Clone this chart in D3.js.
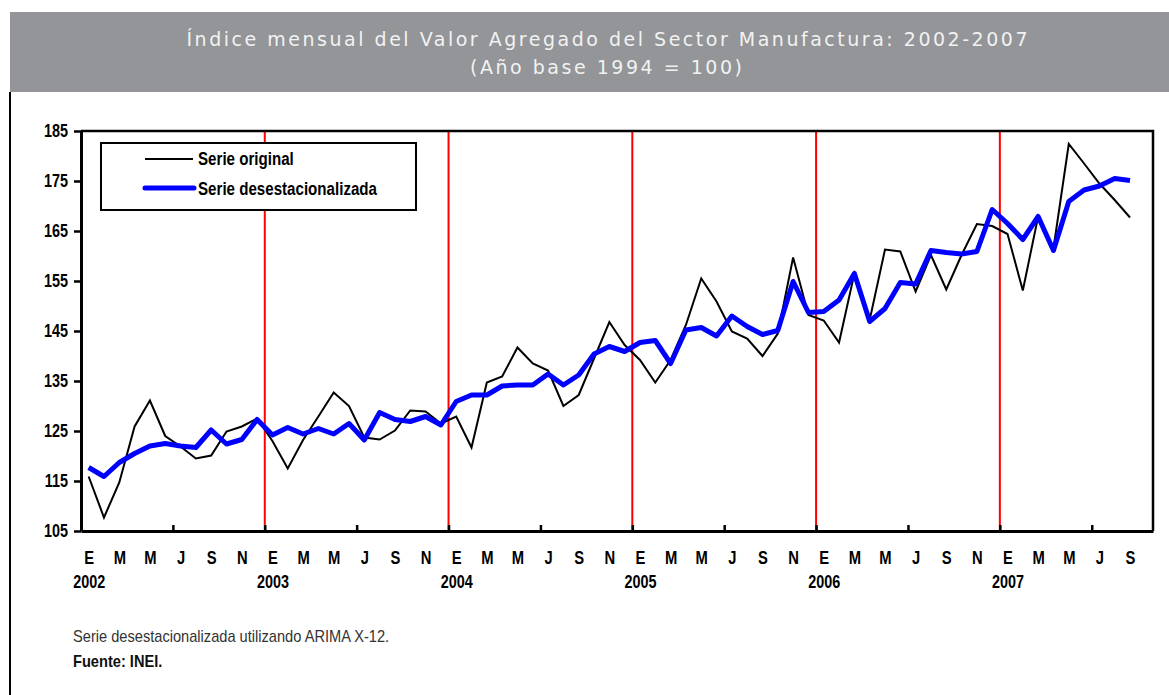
<!DOCTYPE html>
<html><head><meta charset="utf-8">
<script src="https://cdn.jsdelivr.net/npm/d3@7"></script>
<style>
body{margin:0;background:#fff;}
svg{display:block;}
</style></head>
<body><svg id="c" width="1169" height="695"></svg>
<script>
const monthLetters = ["E","F","M","A","M","J","J","A","S","O","N","D"];
const years = ["2002","2003","2004","2005","2006","2007"];
const yTicks = [105,115,125,135,145,155,165,175,185];
const serieOriginal = [
 115.9,107.7,114.7,125.9,131.1,124.0,121.9,119.5,120.1,124.9,125.9,127.5,
 123.0,117.5,123.2,127.9,132.7,130.0,123.7,123.3,125.1,129.1,128.9,126.5,
 127.9,121.7,134.7,135.9,141.7,138.5,137.1,130.0,132.2,139.5,146.8,142.2,
 139.2,134.7,139.2,146.2,155.5,150.9,144.9,143.5,140.0,144.5,159.7,148.2,
 147.1,142.7,156.5,147.2,161.3,160.9,152.9,160.2,153.3,160.2,166.4,166.0,
 164.4,153.1,167.9,161.5,182.4,178.5,174.5,171.2,167.7];
const serieDesest = [
 117.7,115.9,118.7,120.5,122.0,122.5,122.0,121.7,125.2,122.4,123.3,127.3,
 124.2,125.7,124.4,125.5,124.4,126.5,123.2,128.7,127.3,126.9,127.9,126.2,
 130.9,132.2,132.2,134.0,134.2,134.2,136.4,134.2,136.2,140.4,141.9,140.9,
 142.7,143.1,138.5,145.2,145.7,144.0,148.0,145.9,144.3,145.1,154.9,148.7,
 148.9,151.2,156.5,146.9,149.5,154.7,154.4,161.1,160.7,160.4,160.9,169.3,
 166.5,163.3,167.9,161.1,170.9,173.2,174.0,175.5,175.1];
const nSlots = 70; // Jan 2002 .. Oct 2007 category slots
const title1 = "Índice mensual del Valor Agregado del Sector Manufactura: 2002-2007";
const title2 = "(Año base 1994 = 100)";
const legendLabels = ["Serie original","Serie desestacionalizada"];
const note1 = "Serie desestacionalizada utilizando ARIMA X-12.";
const note2 = "Fuente: INEI.";

const svg = d3.select("#c");
const L=81, R=1153, T=131, B=531;
const FONT = "Liberation Sans, Arial, sans-serif";

// compress text horizontally to mimic a narrow typeface
function narrow(sel, k){
  sel.attr("font-family",FONT).each(function(){
    const w = this.getComputedTextLength();
    d3.select(this).attr("textLength", w*k).attr("lengthAdjust","spacingAndGlyphs");
  });
}

// banner
svg.append("rect").attr("x",10).attr("y",12).attr("width",1159).attr("height",80).attr("fill","#939598");
svg.append("text").attr("x",607).attr("y",46).attr("text-anchor","middle")
  .attr("font-family","DejaVu Sans, Verdana, sans-serif").attr("font-size",19).attr("fill","#f2f2f2")
  .attr("textLength",841).attr("lengthAdjust","spacing").text(title1);
svg.append("text").attr("x",606).attr("y",74).attr("text-anchor","middle")
  .attr("font-family","DejaVu Sans, Verdana, sans-serif").attr("font-size",19).attr("fill","#f2f2f2")
  .attr("textLength",272).attr("lengthAdjust","spacing").text(title2);
// left frame line
svg.append("line").attr("x1",10).attr("x2",10).attr("y1",92).attr("y2",695).attr("stroke","#000").attr("stroke-width",2);

const x = d3.scaleLinear().domain([0,nSlots]).range([L,R]);
const y = d3.scaleLinear().domain([105,185]).range([B,T]);

// red year separators
const g = svg.append("g");
g.selectAll("line.red").data(d3.range(12,nSlots,12)).join("line")
  .attr("x1",d=>x(d)).attr("x2",d=>x(d)).attr("y1",T).attr("y2",B)
  .attr("stroke","#ff0000").attr("stroke-width",2);

// lines
const lineGen = d3.line().x((d,i)=>x(i+0.5)).y(d=>y(d));
g.append("path").datum(serieOriginal).attr("d",lineGen).attr("fill","none").attr("stroke","#000").attr("stroke-width",2).attr("stroke-linejoin","miter");
g.append("path").datum(serieDesest).attr("d",lineGen).attr("fill","none").attr("stroke","#0000ff").attr("stroke-width",5).attr("stroke-linejoin","round");

// frame top/right
svg.append("path").attr("d",`M${L},${T}H${R}V${B}`).attr("fill","none").attr("stroke","#000").attr("stroke-width",2.5);

// y axis
const ya = svg.append("g").attr("transform",`translate(${L},0)`)
  .call(d3.axisLeft(y).tickValues(yTicks).tickSize(7).tickSizeOuter(0).tickPadding(6));
ya.select(".domain").attr("stroke-width",3);
ya.selectAll(".tick line").attr("stroke-width",2.5);
ya.selectAll("text").attr("font-size",18).attr("font-weight","bold").attr("fill","#000").call(narrow,0.8);

// x axis ticks (inside, every 6 months)
const xa = svg.append("g").attr("transform",`translate(0,${B})`)
  .call(d3.axisBottom(x).tickValues(d3.range(6,nSlots,6)).tickSize(-6).tickSizeOuter(0).tickFormat(""));
xa.select(".domain").attr("stroke-width",3);
xa.selectAll(".tick line").attr("stroke-width",2.5);

// month labels
const labIdx = d3.range(0,serieOriginal.length,2);
const xm = svg.append("g").attr("transform",`translate(0,${B})`)
  .call(d3.axisBottom(x).tickValues(labIdx.map(i=>i+0.5)).tickSize(0).tickPadding(20)
    .tickFormat(d=>monthLetters[Math.floor(d)%12]));
xm.select(".domain").remove();
xm.selectAll("text").attr("font-size",18).attr("font-weight","bold").attr("fill","#000").call(narrow,0.82);

// year labels
const xy = svg.append("g").attr("transform",`translate(0,${B})`)
  .call(d3.axisBottom(x).tickValues(years.map((d,k)=>k*12+0.5)).tickSize(0).tickPadding(44)
    .tickFormat((d,k)=>years[k]));
xy.select(".domain").remove();
xy.selectAll("text").attr("font-size",18).attr("font-weight","bold").attr("fill","#000").call(narrow,0.8);

// legend
const lg = svg.append("g");
lg.append("rect").attr("x",101).attr("y",143).attr("width",315).attr("height",67).attr("fill","#fff").attr("stroke","#000").attr("stroke-width",2);
lg.append("line").attr("x1",145).attr("x2",193).attr("y1",159).attr("y2",159).attr("stroke","#000").attr("stroke-width",2);
lg.append("line").attr("x1",145).attr("x2",194).attr("y1",188).attr("y2",188).attr("stroke","#0000ff").attr("stroke-width",5).attr("stroke-linecap","round");
lg.selectAll("text").data(legendLabels).join("text")
  .attr("x",198).attr("y",(d,i)=>165+i*30).attr("font-size",18).attr("font-weight","bold").text(d=>d).call(narrow,0.84);

// notes
svg.append("text").attr("x",73).attr("y",642).attr("font-size",17).attr("fill","#333").text(note1).call(narrow,0.86);
svg.append("text").attr("x",73).attr("y",667).attr("font-size",17).attr("font-weight","bold").attr("fill","#111").text(note2).call(narrow,0.86);
</script></body></html>
